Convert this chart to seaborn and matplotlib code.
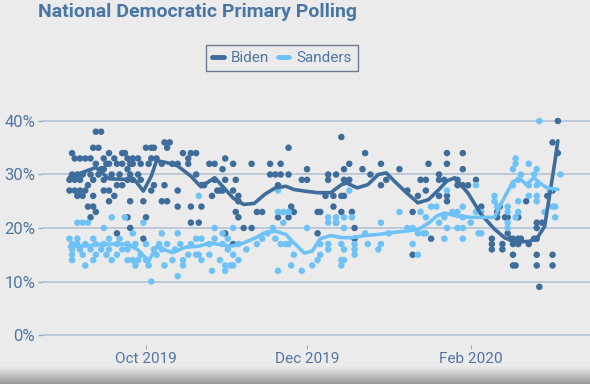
import matplotlib
matplotlib.use("Agg")
import matplotlib.pyplot as plt
import matplotlib.dates as mdates
from matplotlib.lines import Line2D
from matplotlib.ticker import FuncFormatter
import numpy as np
import pandas as pd
import seaborn as sns

title = "National Democratic Primary Polling"
candidates = ["Biden", "Sanders"]
palette = {"Biden": "#3e6c9b", "Sanders": "#6fc2f7"}
y_ticks = [0, 10, 20, 30, 40]
x_ticks = ["2019-10-01", "2019-12-01", "2020-02-01"]

# individual polls (date, %)
biden_polls = [
    ("2019-09-02", 29), ("2019-09-02", 27), ("2019-09-03", 34), ("2019-09-03", 30),
    ("2019-09-04", 33), ("2019-09-04", 29), ("2019-09-04", 27), ("2019-09-05", 30),
    ("2019-09-05", 26), ("2019-09-06", 33), ("2019-09-06", 29), ("2019-09-06", 27),
    ("2019-09-07", 30), ("2019-09-07", 26), ("2019-09-08", 33), ("2019-09-08", 27),
    ("2019-09-09", 28), ("2019-09-09", 24), ("2019-09-10", 33), ("2019-09-10", 30),
    ("2019-09-10", 22), ("2019-09-11", 35), ("2019-09-11", 29), ("2019-09-11", 26),
    ("2019-09-11", 24), ("2019-09-12", 38), ("2019-09-12", 32), ("2019-09-12", 23),
    ("2019-09-13", 35), ("2019-09-13", 30), ("2019-09-14", 38), ("2019-09-14", 31),
    ("2019-09-15", 33), ("2019-09-15", 31), ("2019-09-15", 29), ("2019-09-15", 27),
    ("2019-09-16", 32), ("2019-09-17", 34), ("2019-09-17", 32), ("2019-09-17", 27),
    ("2019-09-17", 25), ("2019-09-18", 30), ("2019-09-19", 33), ("2019-09-19", 26),
    ("2019-09-20", 32), ("2019-09-20", 28), ("2019-09-20", 19), ("2019-09-21", 30),
    ("2019-09-22", 34), ("2019-09-22", 32), ("2019-09-22", 28), ("2019-09-23", 34),
    ("2019-09-24", 33), ("2019-09-24", 31), ("2019-09-24", 29), ("2019-09-24", 22),
    ("2019-09-25", 32), ("2019-09-25", 30), ("2019-09-25", 25), ("2019-09-25", 20),
    ("2019-09-26", 33), ("2019-09-26", 32), ("2019-09-26", 29), ("2019-09-28", 33),
    ("2019-09-28", 30), ("2019-09-29", 32), ("2019-09-29", 29), ("2019-09-30", 25),
    ("2019-09-30", 18), ("2019-10-01", 35), ("2019-10-01", 22), ("2019-10-02", 32),
    ("2019-10-03", 35), ("2019-10-03", 33), ("2019-10-03", 27), ("2019-10-04", 35),
    ("2019-10-04", 28), ("2019-10-05", 33), ("2019-10-07", 32), ("2019-10-07", 25),
    ("2019-10-08", 36), ("2019-10-08", 28), ("2019-10-09", 35), ("2019-10-09", 25),
    ("2019-10-10", 36), ("2019-10-11", 32), ("2019-10-13", 32), ("2019-10-13", 27),
    ("2019-10-13", 24), ("2019-10-15", 34), ("2019-10-17", 33), ("2019-10-17", 32),
    ("2019-10-18", 34), ("2019-10-18", 24), ("2019-10-18", 21), ("2019-10-20", 34),
    ("2019-10-20", 30), ("2019-10-21", 21), ("2019-10-22", 28), ("2019-10-22", 24),
    ("2019-10-23", 28), ("2019-10-25", 32), ("2019-10-26", 26), ("2019-10-27", 32),
    ("2019-10-27", 29), ("2019-10-28", 27), ("2019-10-29", 27), ("2019-10-30", 31),
    ("2019-10-30", 27), ("2019-10-31", 33), ("2019-10-31", 29), ("2019-10-31", 19),
    ("2019-11-03", 32), ("2019-11-03", 27), ("2019-11-03", 17), ("2019-11-04", 29),
    ("2019-11-04", 23), ("2019-11-05", 26), ("2019-11-05", 25), ("2019-11-05", 22),
    ("2019-11-07", 20), ("2019-11-10", 32), ("2019-11-10", 20), ("2019-11-12", 23),
    ("2019-11-14", 23), ("2019-11-17", 32), ("2019-11-17", 30), ("2019-11-19", 30),
    ("2019-11-20", 28), ("2019-11-20", 22), ("2019-11-21", 32), ("2019-11-21", 30),
    ("2019-11-24", 35), ("2019-11-24", 30), ("2019-11-24", 22), ("2019-11-25", 24),
    ("2019-11-26", 23), ("2019-11-29", 29), ("2019-12-01", 31), ("2019-12-01", 29),
    ("2019-12-05", 23), ("2019-12-05", 19), ("2019-12-06", 23), ("2019-12-08", 26),
    ("2019-12-09", 30), ("2019-12-09", 29), ("2019-12-11", 26), ("2019-12-11", 24),
    ("2019-12-12", 30), ("2019-12-12", 21), ("2019-12-14", 37), ("2019-12-14", 26),
    ("2019-12-14", 23), ("2019-12-15", 31), ("2019-12-15", 29), ("2019-12-15", 26),
    ("2019-12-17", 32), ("2019-12-17", 29), ("2019-12-18", 23), ("2019-12-19", 20),
    ("2019-12-19", 18), ("2019-12-22", 31), ("2019-12-23", 34), ("2019-12-25", 30),
    ("2019-12-29", 32), ("2019-12-29", 28), ("2019-12-31", 29), ("2020-01-05", 31),
    ("2020-01-08", 27), ("2020-01-10", 23), ("2020-01-10", 15), ("2020-01-12", 26),
    ("2020-01-13", 29), ("2020-01-15", 29), ("2020-01-15", 27), ("2020-01-16", 32),
    ("2020-01-17", 18), ("2020-01-20", 30), ("2020-01-20", 29), ("2020-01-20", 26),
    ("2020-01-22", 29), ("2020-01-23", 34), ("2020-01-23", 32), ("2020-01-23", 26),
    ("2020-01-23", 25), ("2020-01-27", 29), ("2020-01-27", 28), ("2020-01-29", 34),
    ("2020-01-29", 31), ("2020-01-29", 28), ("2020-01-31", 28), ("2020-02-03", 29),
    ("2020-02-05", 24), ("2020-02-09", 18), ("2020-02-09", 17), ("2020-02-09", 16),
    ("2020-02-11", 23), ("2020-02-11", 22), ("2020-02-12", 24), ("2020-02-13", 17),
    ("2020-02-13", 16), ("2020-02-14", 22), ("2020-02-15", 22), ("2020-02-15", 19),
    ("2020-02-16", 18), ("2020-02-17", 18), ("2020-02-17", 17), ("2020-02-17", 15),
    ("2020-02-17", 13), ("2020-02-18", 13), ("2020-02-19", 22), ("2020-02-19", 18),
    ("2020-02-19", 17), ("2020-02-20", 18), ("2020-02-22", 25), ("2020-02-23", 17),
    ("2020-02-25", 18), ("2020-02-26", 21), ("2020-02-26", 20), ("2020-02-26", 18),
    ("2020-02-26", 15), ("2020-02-26", 13), ("2020-02-27", 9), ("2020-02-28", 21),
    ("2020-03-01", 26), ("2020-03-03", 36), ("2020-03-03", 27), ("2020-03-03", 15),
    ("2020-03-03", 13), ("2020-03-05", 40), ("2020-03-05", 34),
]

sanders_polls = [
    ("2019-09-02", 18), ("2019-09-03", 17), ("2019-09-03", 16), ("2019-09-03", 15),
    ("2019-09-03", 14), ("2019-09-05", 21), ("2019-09-05", 18), ("2019-09-05", 17),
    ("2019-09-06", 16), ("2019-09-07", 21), ("2019-09-07", 15), ("2019-09-08", 17),
    ("2019-09-08", 13), ("2019-09-09", 21), ("2019-09-10", 16), ("2019-09-11", 18),
    ("2019-09-11", 14), ("2019-09-12", 17), ("2019-09-12", 15), ("2019-09-14", 16),
    ("2019-09-15", 20), ("2019-09-15", 17), ("2019-09-16", 15), ("2019-09-17", 18),
    ("2019-09-17", 16), ("2019-09-18", 22), ("2019-09-18", 14), ("2019-09-20", 17),
    ("2019-09-20", 15), ("2019-09-21", 18), ("2019-09-22", 16), ("2019-09-23", 22),
    ("2019-09-24", 17), ("2019-09-24", 16), ("2019-09-24", 14), ("2019-09-26", 19),
    ("2019-09-26", 14), ("2019-09-27", 17), ("2019-09-27", 13), ("2019-09-28", 14),
    ("2019-09-29", 15), ("2019-09-30", 21), ("2019-10-01", 17), ("2019-10-01", 14),
    ("2019-10-02", 13), ("2019-10-03", 10), ("2019-10-04", 16), ("2019-10-05", 15),
    ("2019-10-06", 17), ("2019-10-07", 19), ("2019-10-07", 16), ("2019-10-08", 13),
    ("2019-10-09", 17), ("2019-10-11", 14), ("2019-10-12", 16), ("2019-10-13", 19),
    ("2019-10-13", 11), ("2019-10-14", 17), ("2019-10-15", 14), ("2019-10-15", 13),
    ("2019-10-17", 15), ("2019-10-18", 17), ("2019-10-20", 18), ("2019-10-20", 15),
    ("2019-10-21", 26), ("2019-10-21", 15), ("2019-10-22", 18), ("2019-10-22", 14),
    ("2019-10-25", 17), ("2019-10-25", 15), ("2019-10-26", 12), ("2019-10-27", 20),
    ("2019-10-27", 18), ("2019-10-29", 14), ("2019-10-30", 19), ("2019-10-30", 17),
    ("2019-10-31", 13), ("2019-10-31", 12), ("2019-11-01", 18), ("2019-11-01", 16),
    ("2019-11-02", 13), ("2019-11-03", 20), ("2019-11-03", 15), ("2019-11-03", 13),
    ("2019-11-05", 17), ("2019-11-05", 14), ("2019-11-08", 16), ("2019-11-12", 17),
    ("2019-11-14", 18), ("2019-11-16", 19), ("2019-11-18", 20), ("2019-11-19", 18),
    ("2019-11-20", 27), ("2019-11-20", 23), ("2019-11-20", 12), ("2019-11-21", 17),
    ("2019-11-22", 23), ("2019-11-22", 21), ("2019-11-23", 17), ("2019-11-24", 23),
    ("2019-11-24", 17), ("2019-11-25", 13), ("2019-11-26", 15), ("2019-11-29", 12),
    ("2019-12-01", 20), ("2019-12-03", 13), ("2019-12-05", 14), ("2019-12-06", 17),
    ("2019-12-06", 15), ("2019-12-09", 22), ("2019-12-09", 21), ("2019-12-09", 17),
    ("2019-12-09", 16), ("2019-12-12", 22), ("2019-12-12", 21), ("2019-12-14", 17),
    ("2019-12-14", 14), ("2019-12-14", 13), ("2019-12-15", 22), ("2019-12-15", 20),
    ("2019-12-15", 16), ("2019-12-15", 14), ("2019-12-17", 27), ("2019-12-18", 22),
    ("2019-12-19", 17), ("2019-12-19", 16), ("2019-12-19", 15), ("2019-12-23", 19),
    ("2019-12-24", 17), ("2019-12-28", 16), ("2019-12-29", 21), ("2019-12-29", 17),
    ("2020-01-01", 19), ("2020-01-05", 23), ("2020-01-08", 20), ("2020-01-10", 20),
    ("2020-01-10", 17), ("2020-01-12", 19), ("2020-01-12", 15), ("2020-01-13", 23),
    ("2020-01-14", 19), ("2020-01-15", 22), ("2020-01-15", 19), ("2020-01-17", 24),
    ("2020-01-19", 24), ("2020-01-20", 21), ("2020-01-22", 22), ("2020-01-22", 18),
    ("2020-01-23", 27), ("2020-01-23", 20), ("2020-01-25", 23), ("2020-01-27", 23),
    ("2020-01-27", 20), ("2020-01-29", 24), ("2020-01-29", 22), ("2020-01-29", 20),
    ("2020-01-29", 18), ("2020-02-01", 21), ("2020-02-03", 28), ("2020-02-03", 23),
    ("2020-02-04", 19), ("2020-02-05", 23), ("2020-02-05", 19), ("2020-02-10", 26),
    ("2020-02-10", 25), ("2020-02-11", 24), ("2020-02-15", 24), ("2020-02-15", 23),
    ("2020-02-15", 21), ("2020-02-15", 20), ("2020-02-17", 31), ("2020-02-17", 28),
    ("2020-02-18", 33), ("2020-02-18", 32), ("2020-02-18", 22), ("2020-02-19", 29),
    ("2020-02-19", 25), ("2020-02-19", 23), ("2020-02-20", 30), ("2020-02-23", 32),
    ("2020-02-23", 28), ("2020-02-23", 26), ("2020-02-25", 30), ("2020-02-26", 31),
    ("2020-02-26", 28), ("2020-02-26", 26), ("2020-02-26", 25), ("2020-02-27", 40),
    ("2020-02-29", 23), ("2020-03-02", 27), ("2020-03-03", 24), ("2020-03-04", 24),
    ("2020-03-04", 22), ("2020-03-06", 30),
]

# smoothed trend lines as drawn in the chart
biden_trend = [
    ("2019-09-02", 29.5), ("2019-09-12", 31.3), ("2019-09-17", 29.2), ("2019-09-23", 29.1),
    ("2019-09-27", 28.8), ("2019-09-30", 26.9), ("2019-10-03", 29.7), ("2019-10-05", 32.6),
    ("2019-10-09", 32.2), ("2019-10-13", 31.6), ("2019-10-18", 29.7), ("2019-10-21", 28.1),
    ("2019-10-24", 28.4), ("2019-10-27", 29.4), ("2019-10-30", 27.8), ("2019-11-03", 25.6),
    ("2019-11-07", 24.4), ("2019-11-11", 24.6), ("2019-11-15", 26.3), ("2019-11-19", 27.5),
    ("2019-11-23", 27.8), ("2019-11-26", 27.2), ("2019-11-30", 26.9), ("2019-12-05", 26.6),
    ("2019-12-10", 26.6), ("2019-12-14", 28.1), ("2019-12-16", 28.4), ("2019-12-20", 27.5),
    ("2019-12-24", 28.1), ("2019-12-28", 30.0), ("2019-12-31", 30.3), ("2020-01-03", 28.8),
    ("2020-01-07", 26.9), ("2020-01-12", 24.7), ("2020-01-16", 25.3), ("2020-01-20", 27.2),
    ("2020-01-23", 28.8), ("2020-01-26", 29.4), ("2020-01-28", 28.2), ("2020-01-31", 26.5),
    ("2020-02-05", 22.5), ("2020-02-10", 19.8), ("2020-02-14", 18.1), ("2020-02-19", 17.4),
    ("2020-02-23", 17.5), ("2020-02-26", 18.0), ("2020-02-29", 20.3), ("2020-03-02", 26.5),
    ("2020-03-04", 32.8), ("2020-03-05", 36.3),
]

sanders_trend = [
    ("2019-09-02", 16.5), ("2019-09-09", 16.7), ("2019-09-15", 17.0), ("2019-09-20", 17.0),
    ("2019-09-24", 17.0), ("2019-09-28", 15.9), ("2019-10-02", 13.8), ("2019-10-05", 16.5),
    ("2019-10-11", 15.4), ("2019-10-16", 16.4), ("2019-10-21", 16.6), ("2019-10-25", 17.2),
    ("2019-10-29", 16.9), ("2019-11-02", 16.6), ("2019-11-07", 17.2), ("2019-11-12", 18.3),
    ("2019-11-15", 19.1), ("2019-11-19", 19.4), ("2019-11-23", 18.8), ("2019-11-26", 17.2),
    ("2019-11-30", 15.3), ("2019-12-03", 15.7), ("2019-12-06", 18.0), ("2019-12-10", 18.6),
    ("2019-12-14", 18.2), ("2019-12-18", 18.2), ("2019-12-23", 18.6), ("2019-12-28", 18.8),
    ("2020-01-01", 19.1), ("2020-01-07", 19.4), ("2020-01-12", 19.7), ("2020-01-16", 20.9),
    ("2020-01-19", 22.2), ("2020-01-22", 22.8), ("2020-01-27", 22.2), ("2020-02-01", 22.0),
    ("2020-02-06", 22.0), ("2020-02-10", 22.0), ("2020-02-13", 25.0), ("2020-02-17", 28.7),
    ("2020-02-20", 29.1), ("2020-02-22", 28.1), ("2020-02-25", 29.4), ("2020-02-28", 28.1),
    ("2020-03-01", 27.5), ("2020-03-05", 27.2),
]


def to_frame(rows, name):
    df = pd.DataFrame(rows, columns=["date", "pct"])
    df["date"] = pd.to_datetime(df["date"])
    df["candidate"] = name
    return df


polls = pd.concat([to_frame(biden_polls, "Biden"), to_frame(sanders_polls, "Sanders")])
trend = pd.concat([to_frame(biden_trend, "Biden"), to_frame(sanders_trend, "Sanders")])

bg = "#ebebeb"
text_color = "#4f76a0"

sns.set_theme(style="white")
plt.rcParams["font.family"] = ["Roboto", "DejaVu Sans"]

W, H = 590, 384
fig = plt.figure(figsize=(W / 100, H / 100), dpi=100, facecolor=bg)
# axes box in pixels: left 42, right 590, top 100, bottom 345
ax = fig.add_axes([42 / W, 1 - 345 / H, (W - 42) / W, 245 / H])
ax.set_facecolor(bg)

sns.scatterplot(data=polls, x="date", y="pct", hue="candidate", palette=palette,
                s=22, linewidth=0, legend=False, ax=ax, zorder=3)
sns.lineplot(data=trend, x="date", y="pct", hue="candidate", palette=palette,
             linewidth=2.6, legend=False, ax=ax, zorder=4)

# pixel scale: 5.35 px per point, Oct 1 at x=146, 2.64 px per day
oct1 = pd.Timestamp("2019-10-01")
ax.set_xlim(oct1 + pd.Timedelta(days=(42 - 146) / 2.64), oct1 + pd.Timedelta(days=(590 - 146) / 2.64))
ax.set_ylim(-10 / 5.35, 40 + 21 / 5.35)

ax.set_yticks(y_ticks)
ax.yaxis.set_major_formatter(FuncFormatter(lambda v, p: f"{v:.0f}%"))
ax.set_xticks(pd.to_datetime(x_ticks))
ax.xaxis.set_major_formatter(mdates.DateFormatter("%b %Y"))
ax.set_xlabel("")
ax.set_ylabel("")

ax.grid(axis="y", color="#b9c6d6", linewidth=1.3, zorder=0)
ax.grid(axis="x", visible=False)
for s in ax.spines.values():
    s.set_visible(False)
ax.tick_params(axis="y", length=3, width=1, color="#9aa9bb", pad=2,
               labelsize=12, labelcolor=text_color, left=True)
ax.tick_params(axis="x", length=3, width=0.8, color="#9aa9bb", pad=2,
               labelsize=11, labelcolor=text_color, bottom=True)

fig.text(38 / W, 1 - 3 / H, title, ha="left", va="top", fontsize=14,
         fontweight="bold", color="#4a76a4")

handles = [Line2D([0], [0], color=palette[c], lw=3.5) for c in candidates]
leg = fig.legend(handles, candidates, loc="center", bbox_to_anchor=(282 / W, 1 - 58 / H),
                 ncol=2, frameon=True, fancybox=False, facecolor=bg, edgecolor="#4d5e73",
                 fontsize=11, handlelength=0.75, handletextpad=0.45, columnspacing=0.6,
                 borderpad=0.4, borderaxespad=0)
leg.get_frame().set_linewidth(1.0)
for t in leg.get_texts():
    t.set_color(text_color)

# dark fade along the bottom edge of the frame
shade = fig.add_axes([0, 0, 1, 18 / H], zorder=-1)
grad = np.linspace(0, 1, 50).reshape(-1, 1)
shade.imshow(grad, aspect="auto", cmap=sns.blend_palette([bg, "#9a9a9a"], as_cmap=True),
             extent=[0, 1, 0, 1], origin="upper")
shade.axis("off")

fig.savefig("out.png", dpi=100, facecolor=bg)
